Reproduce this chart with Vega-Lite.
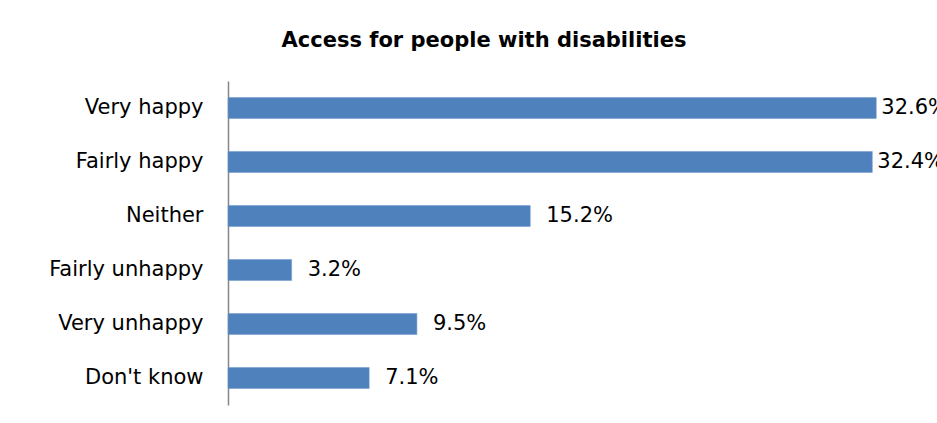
{
  "$schema": "https://vega.github.io/schema/vega-lite/v6.json",
  "autosize": {"type": "none"},
  "padding": {"left": 228, "top": 81, "right": 13, "bottom": 18},
  "width": 696,
  "height": 324,
  "background": "white",
  "title": {
    "text": "Access for people with disabilities",
    "font": "DejaVu Sans",
    "fontSize": 21,
    "fontWeight": "bold",
    "color": "#000000",
    "anchor": "middle",
    "frame": "group",
    "dx": -92,
    "offset": 30
  },
  "config": {"view": {"stroke": null}},
  "data": {
    "values": [
      {"response": "Very happy", "pct": 32.6, "label": "32.6%"},
      {"response": "Fairly happy", "pct": 32.4, "label": "32.4%"},
      {"response": "Neither", "pct": 15.2, "label": "15.2%"},
      {"response": "Fairly unhappy", "pct": 3.2, "label": "3.2%"},
      {"response": "Very unhappy", "pct": 9.5, "label": "9.5%"},
      {"response": "Don't know", "pct": 7.1, "label": "7.1%"}
    ]
  },
  "encoding": {
    "y": {
      "field": "response",
      "type": "nominal",
      "sort": null,
      "scale": {"paddingInner": 0.61, "paddingOuter": 0.305},
      "axis": {
        "title": null,
        "ticks": false,
        "domainColor": "#868686",
        "domainWidth": 1.5,
        "labelFont": "DejaVu Sans",
        "labelFontSize": 21,
        "labelColor": "#000000",
        "labelPadding": 25
      }
    },
    "x": {
      "field": "pct",
      "type": "quantitative",
      "scale": {"domain": [0, 35], "nice": false},
      "axis": null
    }
  },
  "layer": [
    {"mark": {"type": "bar", "color": "#4F81BD", "stroke": "#6E98CC", "strokeWidth": 0.5}},
    {
      "transform": [{"filter": "datum.pct < 30"}],
      "mark": {"type": "text", "align": "left", "baseline": "middle", "dx": 16, "font": "DejaVu Sans", "fontSize": 21, "color": "#000000"},
      "encoding": {"text": {"field": "label"}}
    },
    {
      "transform": [{"filter": "datum.pct >= 30"}],
      "mark": {"type": "text", "align": "left", "baseline": "middle", "dx": 5, "font": "DejaVu Sans", "fontSize": 21, "color": "#000000"},
      "encoding": {"text": {"field": "label"}}
    }
  ]
}
